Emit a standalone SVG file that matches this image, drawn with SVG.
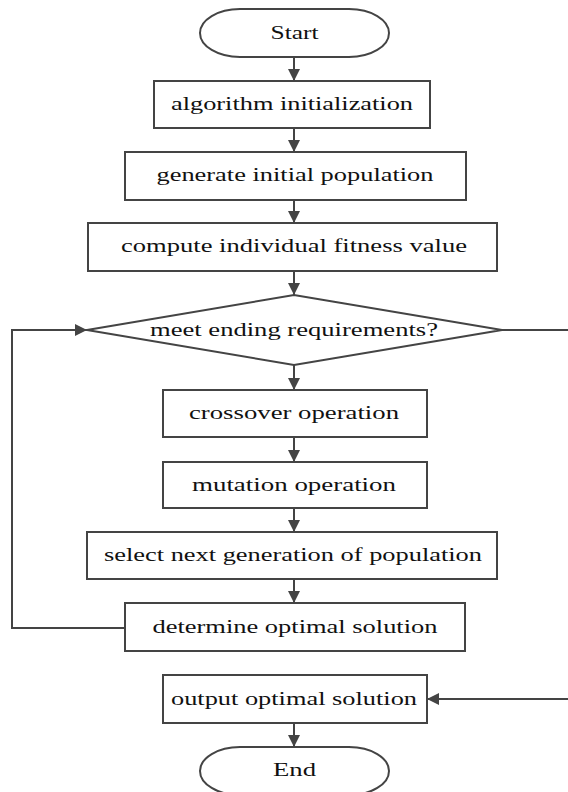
<svg xmlns="http://www.w3.org/2000/svg" width="568" height="792" viewBox="0 0 568 792">
<style>
.shape{fill:#fff;stroke:#444;stroke-width:2}
.lbl{font-family:"Liberation Serif","Times New Roman",serif;font-size:18px;fill:#111;text-anchor:middle}
.conn{fill:none;stroke:#444;stroke-width:2}
</style>
<defs>
<marker id="arr" markerUnits="userSpaceOnUse" markerWidth="12" markerHeight="12" refX="12" refY="6" orient="auto">
<path d="M0,0 L12,6 L0,12 z" fill="#444"/>
</marker>
</defs>
<rect width="568" height="792" fill="#fff"/>
<g id="connectors">
<path class="conn" d="M294,57 V81" marker-end="url(#arr)"/>
<path class="conn" d="M294,128 V152" marker-end="url(#arr)"/>
<path class="conn" d="M294,200 V223" marker-end="url(#arr)"/>
<path class="conn" d="M294,271 V295" marker-end="url(#arr)"/>
<path class="conn" d="M294,365 V390" marker-end="url(#arr)"/>
<path class="conn" d="M294,437 V462" marker-end="url(#arr)"/>
<path class="conn" d="M294,508 V532" marker-end="url(#arr)"/>
<path class="conn" d="M294,579 V603" marker-end="url(#arr)"/>
<path class="conn" d="M125,628 H12 V330 H87" marker-end="url(#arr)"/>
<path class="conn" d="M502,330 H569 V699 H427" marker-end="url(#arr)"/>
<path class="conn" d="M294,723 V747" marker-end="url(#arr)"/>
</g>
<g id="start">
<rect class="shape" x="200" y="9" width="189" height="48" rx="40" ry="24"/>
<text class="lbl" x="294.5" y="39" textLength="48" lengthAdjust="spacingAndGlyphs">Start</text>
</g>
<g id="init">
<rect class="shape" x="154" y="81" width="276" height="47"/>
<text class="lbl" x="292" y="110" textLength="242" lengthAdjust="spacingAndGlyphs">algorithm initialization</text>
</g>
<g id="generate">
<rect class="shape" x="125" y="152" width="341" height="48"/>
<text class="lbl" x="295" y="181" textLength="277" lengthAdjust="spacingAndGlyphs">generate initial population</text>
</g>
<g id="compute">
<rect class="shape" x="88" y="223" width="409" height="48"/>
<text class="lbl" x="294" y="252" textLength="346" lengthAdjust="spacingAndGlyphs">compute individual fitness value</text>
</g>
<g id="decision">
<polygon class="shape" points="87,330 294,295 502,330 294,365"/>
<text class="lbl" x="294" y="336" textLength="288" lengthAdjust="spacingAndGlyphs">meet ending requirements?</text>
</g>
<g id="crossover">
<rect class="shape" x="163" y="390" width="264" height="47"/>
<text class="lbl" x="294" y="419" textLength="210" lengthAdjust="spacingAndGlyphs">crossover operation</text>
</g>
<g id="mutation">
<rect class="shape" x="163" y="462" width="264" height="46"/>
<text class="lbl" x="294" y="491" textLength="204" lengthAdjust="spacingAndGlyphs">mutation operation</text>
</g>
<g id="select">
<rect class="shape" x="87" y="532" width="410" height="47"/>
<text class="lbl" x="293" y="561" textLength="378" lengthAdjust="spacingAndGlyphs">select next generation of population</text>
</g>
<g id="determine">
<rect class="shape" x="125" y="603" width="340" height="48"/>
<text class="lbl" x="295" y="633" textLength="285" lengthAdjust="spacingAndGlyphs">determine optimal solution</text>
</g>
<g id="output">
<rect class="shape" x="163" y="675" width="264" height="48"/>
<text class="lbl" x="294" y="705" textLength="246" lengthAdjust="spacingAndGlyphs">output optimal solution</text>
</g>
<g id="end">
<rect class="shape" x="200" y="747" width="189" height="48" rx="40" ry="24"/>
<text class="lbl" x="294.5" y="776" textLength="43" lengthAdjust="spacingAndGlyphs">End</text>
</g>
</svg>
